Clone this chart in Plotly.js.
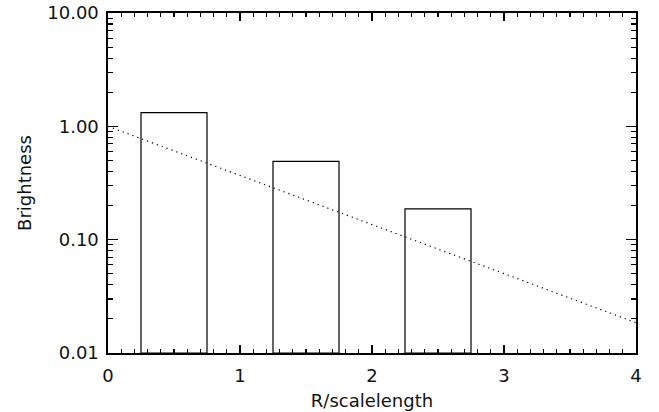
<!DOCTYPE html>
<html>
<head>
<meta charset="utf-8">
<script src="https://cdn.plot.ly/plotly-3.0.1.min.js"></script>
<style>html,body{margin:0;padding:0;background:#fff;}#chart{width:659px;height:412px;}</style>
</head>
<body>
<div id="chart"></div>
<script>
// Data
var barCenters = [0.5, 1.5, 2.5];
var barValues = [1.31, 0.48, 0.177];
var lineX = [0, 4];
var lineY = [1.0, 0.0185];
var yTickVals = [0.01, 0.1, 1, 10];
var yTickText = ['0.01', '0.10', '1.00', '10.00'];
var xTickVals = [0, 1, 2, 3, 4];
var xTickText = ['0', '1', '2', '3', '4'];

var font = {family: 'DejaVu Sans, sans-serif', size: 18, color: '#111'};

var traces = [
  {
    type: 'bar',
    x: barCenters,
    y: barValues,
    base: 0.01,
    width: 0.5,
    marker: {color: 'rgba(255,255,255,0)', line: {color: '#000', width: 1.2}},
    hoverinfo: 'skip'
  },
  {
    type: 'scatter',
    mode: 'lines',
    x: lineX,
    y: lineY,
    line: {color: '#000', width: 1.2, dash: '1.2px,4px'},
    hoverinfo: 'skip'
  }
];

var layout = {
  width: 659,
  height: 412,
  margin: {l: 108, r: 23, t: 13, b: 59},
  paper_bgcolor: '#fff',
  plot_bgcolor: '#fff',
  showlegend: false,
  font: font,
  xaxis: {
    range: [0, 4],
    tickvals: xTickVals,
    ticktext: xTickText,
    ticks: 'inside',
    ticklen: 8,
    tickwidth: 1.2,
    tickcolor: '#000',
    showline: true,
    linecolor: '#000',
    linewidth: 1.6,
    mirror: 'allticks',
    showgrid: false,
    zeroline: false,
    tickfont: font,
    ticklabelstandoff: 6,
    minor: {dtick: 0.1, tick0: 0, ticks: 'inside', ticklen: 4, tickwidth: 1.2, tickcolor: '#000', showgrid: false},
    title: {text: 'R/scalelength', font: font, standoff: 9}
  },
  yaxis: {
    type: 'log',
    range: [-2, 1],
    tickvals: yTickVals,
    ticktext: yTickText,
    ticks: 'inside',
    ticklen: 10,
    tickwidth: 1.2,
    tickcolor: '#000',
    showline: true,
    linecolor: '#000',
    linewidth: 1.6,
    mirror: 'allticks',
    showgrid: false,
    zeroline: false,
    tickfont: font,
    ticklabelstandoff: 4,
    minor: {dtick: 'D1', ticks: 'inside', ticklen: 5, tickwidth: 1.2, tickcolor: '#000', showgrid: false},
    title: {text: 'Brightness', font: font, standoff: 11}
  }
};

Plotly.newPlot('chart', traces, layout, {staticPlot: true, displayModeBar: false});
</script>
</body>
</html>
